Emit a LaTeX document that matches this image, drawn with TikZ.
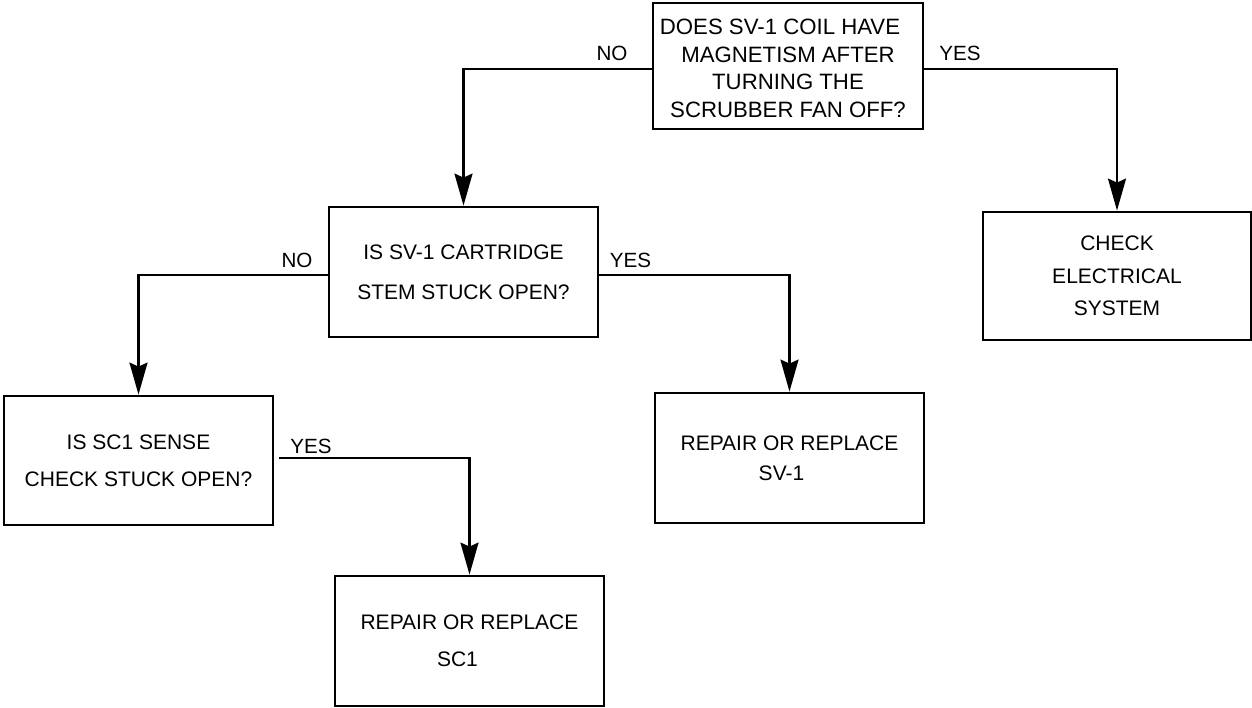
\documentclass[tikz,border=0pt]{standalone}
\usepackage{fontspec}
\setmainfont{Liberation Sans}
\usetikzlibrary{arrows.meta}
\tikzset{
  box/.style={draw, line width=1.4pt, minimum width=134.5pt, minimum height=65pt, inner sep=0pt, align=center},
  lbl/.style={inner sep=0pt, font=\fontsize{10.3}{12}\selectfont},
  arr/.style={line width=1.15pt, -{Stealth[length=16pt,width=9pt,inset=2pt]}},
}
\begin{document}
\begin{tikzpicture}[x=0.5pt,y=-0.5pt]
\useasboundingbox (0,0) rectangle (1252,707);
% boxes
\node[box, minimum width=135pt, minimum height=63pt, font=\fontsize{11.1}{13.85}\selectfont] (q1) at (788,66)
  {\rule{0pt}{10pt}DOES SV-1 COIL HAVE\kern8pt\\MAGNETISM AFTER\\TURNING THE\\SCRUBBER FAN OFF?};
\node[box, font=\fontsize{10.5}{20}\selectfont] (q2) at (463.5,272)
  {IS SV-1 CARTRIDGE\\STEM STUCK OPEN?};
\node[box, minimum width=134pt, minimum height=64pt, font=\fontsize{10.5}{16.25}\selectfont] (r1) at (1117,276)
  {CHECK\\ELECTRICAL\\SYSTEM};
\node[box, minimum height=64.5pt, font=\fontsize{10.5}{18.5}\selectfont] (q3) at (138.5,460.5)
  {IS SC1 SENSE\\CHECK STUCK OPEN?};
\node[box, font=\fontsize{10.5}{15}\selectfont] (r2) at (789.5,458)
  {REPAIR OR REPLACE\\SV-1\kern8pt};
\node[box, font=\fontsize{10.5}{18.3}\selectfont] (r3) at (469.5,641)
  {REPAIR OR REPLACE\\SC1\kern12pt};
% connectors
\draw[arr] ([yshift=-1.5pt]q1.west) -| (q2.north);
\draw[arr] ([yshift=-1.5pt]q1.east) -| (r1.north);
\draw[arr] ([yshift=-1.5pt]q2.west) -| (q3.north);
\draw[arr] ([yshift=-1.5pt]q2.east) -| (r2.north);
\draw[arr] ([xshift=2.5pt,yshift=1.25pt]q3.east) -| (r3.north);
% labels
\node[lbl, anchor=base] (l1) at (612,60) {NO};
\node[lbl, anchor=base] (l2) at (960,60) {YES};
\node[lbl, anchor=base] (l3) at (297,267) {NO};
\node[lbl, anchor=base] (l4) at (630.5,267) {YES};
\node[lbl, anchor=base] (l5) at (311,453) {YES};
\end{tikzpicture}
\end{document}
